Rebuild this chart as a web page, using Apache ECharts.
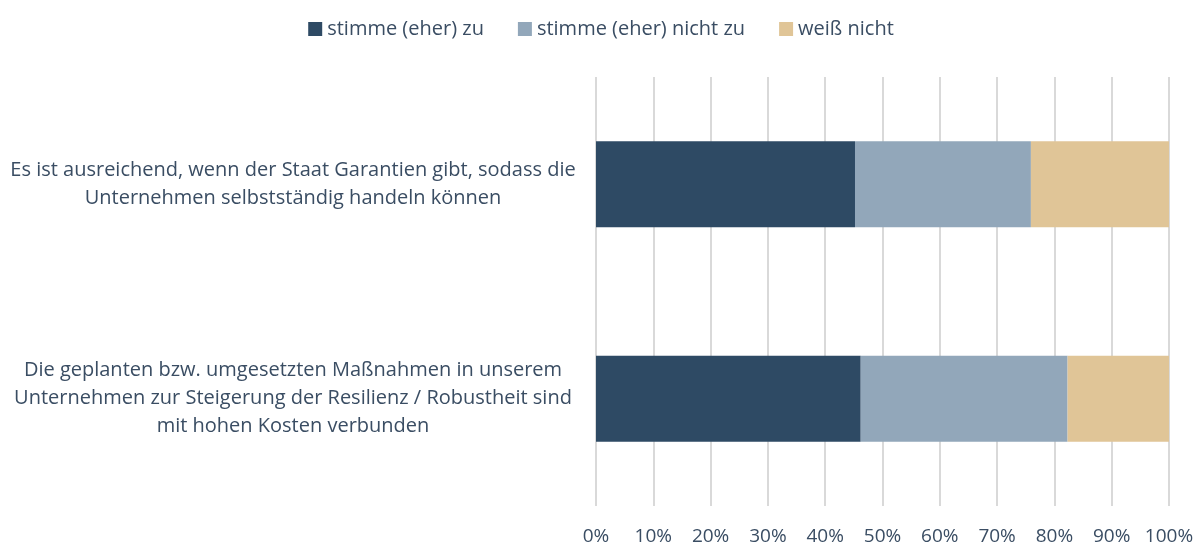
<!DOCTYPE html>
<html>
<head>
<meta charset="utf-8">
<script src="https://cdn.jsdelivr.net/npm/echarts@6/dist/echarts.min.js"></script>
<style>
  html, body { margin: 0; padding: 0; background: #fff; }
  #chart { width: 1202px; height: 546px; }
</style>
</head>
<body>
<div id="chart"></div>
<script>
var categories = [
  'Es ist ausreichend, wenn der Staat Garantien gibt, sodass die\nUnternehmen selbstständig handeln können',
  'Die geplanten bzw. umgesetzten Maßnahmen in unserem\nUnternehmen zur Steigerung der Resilienz / Robustheit sind\nmit hohen Kosten verbunden'
];
var seriesNames = ['stimme (eher) zu', 'stimme (eher) nicht zu', 'weiß nicht'];
var zuValues = [45.2, 46.2];
var nichtZuValues = [30.7, 36.1];
var weissNichtValues = [24.1, 17.7];
var colors = ['#2e4a64', '#92a7ba', '#e0c597'];

var textColor = '#3a4d63';
var font = 'Open Sans';

function barSeries(name, data, color) {
  return {
    name: name,
    type: 'bar',
    stack: 'total',
    barWidth: '40%',
    data: data,
    itemStyle: { color: color }
  };
}

var myChart = echarts.init(document.getElementById('chart'));
var option = {
  animation: false,
  textStyle: { fontFamily: font },
  color: colors,
  legend: {
    top: 14,
    left: 'center',
    itemWidth: 14,
    itemHeight: 14,
    itemGap: 34,
    icon: 'rect',
    textStyle: { color: textColor, fontSize: 20, fontFamily: font },
    data: seriesNames
  },
  grid: { left: 596, right: 33, top: 77, bottom: 37 },
  xAxis: {
    type: 'value',
    min: 0,
    max: 100,
    interval: 10,
    axisLine: { show: false },
    axisTick: { show: false },
    splitLine: { lineStyle: { color: '#d9d9d9', width: 2 } },
    axisLabel: {
      formatter: '{value}%',
      color: textColor,
      fontSize: 19,
      fontFamily: font,
      margin: 21
    }
  },
  yAxis: {
    type: 'category',
    inverse: true,
    data: categories,
    axisLine: { show: false },
    axisTick: { show: false },
    axisLabel: {
      align: 'center',
      margin: 303,
      color: textColor,
      fontSize: 20,
      lineHeight: 28,
      fontFamily: font
    }
  },
  series: [
    barSeries(seriesNames[0], zuValues, colors[0]),
    barSeries(seriesNames[1], nichtZuValues, colors[1]),
    barSeries(seriesNames[2], weissNichtValues, colors[2])
  ]
};
myChart.setOption(option);
</script>
</body>
</html>
